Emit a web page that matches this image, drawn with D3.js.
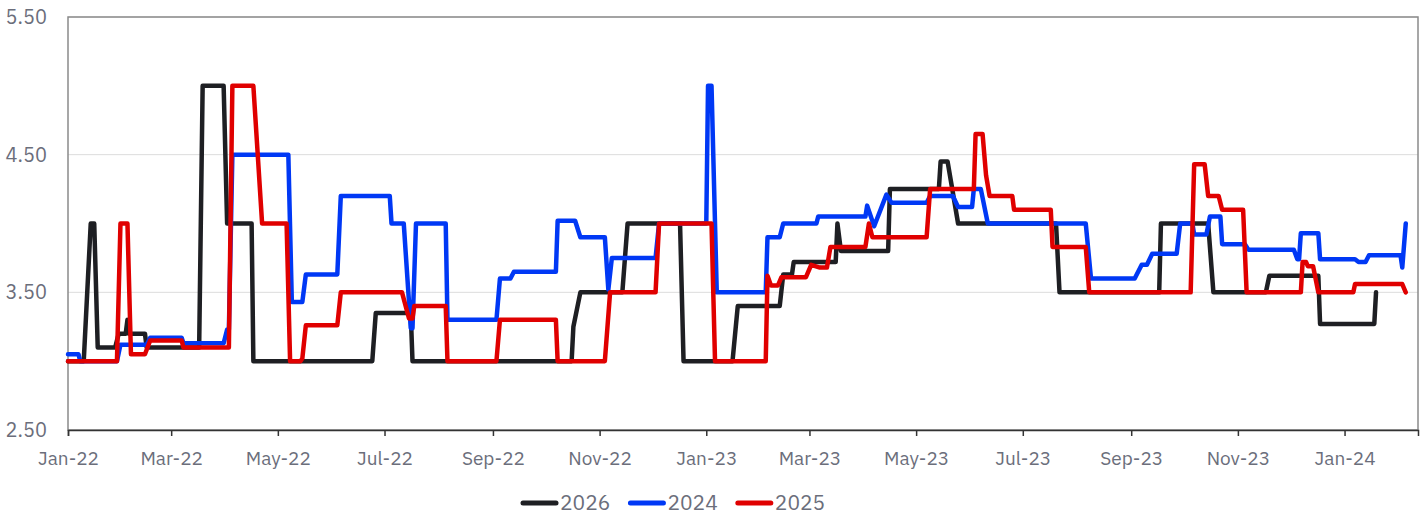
<!DOCTYPE html>
<html>
<head>
<meta charset="utf-8">
<script src="https://cdn.jsdelivr.net/npm/d3@7"></script>
<style>
  body { margin: 0; background: #fff; }
  svg { display: block; }
  svg text { font-family: "IBM Plex Sans", "Noto Sans", sans-serif; fill: #6b6e7b; }
</style>
</head>
<body>
<div id="chart"></div>
<script>
'use strict';

// series in legend order, each point is [date, value]
var seriesNames = ['2026', '2024', '2025'];

var series2026 = [
  ['2022-01-01', 3.0], ['2022-01-10', 3.0], ['2022-01-14', 4.0], ['2022-01-16', 4.0],
  ['2022-01-18', 3.1], ['2022-01-28', 3.1], ['2022-01-30', 3.2], ['2022-02-03', 3.2],
  ['2022-02-04', 3.3], ['2022-02-05', 3.2], ['2022-02-14', 3.2], ['2022-02-15', 3.1],
  ['2022-03-17', 3.1], ['2022-03-19', 5.0], ['2022-03-31', 5.0], ['2022-04-02', 4.0],
  ['2022-04-16', 4.0], ['2022-04-17', 3.0], ['2022-06-24', 3.0], ['2022-06-26', 3.35],
  ['2022-07-16', 3.35], ['2022-07-17', 3.0], ['2022-10-16', 3.0], ['2022-10-17', 3.25],
  ['2022-10-21', 3.5], ['2022-11-14', 3.5], ['2022-11-17', 4.0], ['2022-12-17', 4.0],
  ['2022-12-19', 3.0], ['2023-01-16', 3.0], ['2023-01-19', 3.4], ['2023-02-12', 3.4],
  ['2023-02-14', 3.63], ['2023-02-19', 3.63], ['2023-02-20', 3.72], ['2023-03-16', 3.72],
  ['2023-03-17', 4.0], ['2023-03-19', 3.8], ['2023-04-15', 3.8], ['2023-04-16', 4.25],
  ['2023-05-14', 4.25], ['2023-05-15', 4.45], ['2023-05-19', 4.45], ['2023-05-25', 4.0],
  ['2023-07-20', 4.0], ['2023-07-22', 3.5], ['2023-09-17', 3.5], ['2023-09-18', 4.0],
  ['2023-10-15', 4.0], ['2023-10-18', 3.5], ['2023-11-17', 3.5], ['2023-11-19', 3.62],
  ['2023-12-17', 3.62], ['2023-12-18', 3.27], ['2024-01-18', 3.27], ['2024-01-19', 3.5]
];

var series2024 = [
  ['2022-01-01', 3.05], ['2022-01-07', 3.05], ['2022-01-08', 3.0], ['2022-01-29', 3.0],
  ['2022-01-31', 3.12], ['2022-02-15', 3.12], ['2022-02-17', 3.17], ['2022-03-07', 3.17],
  ['2022-03-08', 3.13], ['2022-03-31', 3.13], ['2022-04-02', 3.23], ['2022-04-03', 3.23],
  ['2022-04-05', 4.5], ['2022-05-07', 4.5], ['2022-05-09', 3.43], ['2022-05-15', 3.43],
  ['2022-05-17', 3.63], ['2022-06-04', 3.63], ['2022-06-06', 4.2], ['2022-07-04', 4.2],
  ['2022-07-05', 4.0], ['2022-07-12', 4.0], ['2022-07-16', 3.24], ['2022-07-17', 3.24],
  ['2022-07-19', 4.0], ['2022-08-05', 4.0], ['2022-08-06', 3.3], ['2022-09-03', 3.3],
  ['2022-09-05', 3.6], ['2022-09-11', 3.6], ['2022-09-13', 3.65], ['2022-10-07', 3.65],
  ['2022-10-08', 4.02], ['2022-10-18', 4.02], ['2022-10-21', 3.9], ['2022-11-04', 3.9],
  ['2022-11-06', 3.52], ['2022-11-08', 3.75], ['2022-12-03', 3.75], ['2022-12-05', 4.0],
  ['2023-01-01', 4.0], ['2023-01-02', 5.0], ['2023-01-04', 5.0], ['2023-01-07', 3.5],
  ['2023-02-04', 3.5], ['2023-02-05', 3.9], ['2023-02-12', 3.9], ['2023-02-14', 4.0],
  ['2023-03-05', 4.0], ['2023-03-06', 4.05], ['2023-04-02', 4.05], ['2023-04-03', 4.13],
  ['2023-04-07', 3.98], ['2023-04-14', 4.21], ['2023-04-17', 4.15], ['2023-05-07', 4.15],
  ['2023-05-09', 4.2], ['2023-05-22', 4.2], ['2023-05-25', 4.12], ['2023-06-02', 4.12],
  ['2023-06-03', 4.25], ['2023-06-07', 4.25], ['2023-06-11', 4.0], ['2023-08-06', 4.0],
  ['2023-08-09', 3.6], ['2023-09-03', 3.6], ['2023-09-07', 3.7], ['2023-09-10', 3.7],
  ['2023-09-13', 3.78], ['2023-09-27', 3.78], ['2023-09-29', 4.0], ['2023-10-06', 4.0],
  ['2023-10-07', 3.92], ['2023-10-14', 3.92], ['2023-10-16', 4.05], ['2023-10-22', 4.05],
  ['2023-10-23', 3.85], ['2023-11-05', 3.85], ['2023-11-07', 3.81], ['2023-12-03', 3.81],
  ['2023-12-05', 3.74], ['2023-12-06', 3.74], ['2023-12-07', 3.93], ['2023-12-17', 3.93],
  ['2023-12-18', 3.74], ['2024-01-07', 3.74], ['2024-01-09', 3.72], ['2024-01-13', 3.72],
  ['2024-01-15', 3.77], ['2024-02-02', 3.77], ['2024-02-03', 3.68], ['2024-02-05', 4.0]
];

var series2025 = [
  ['2022-01-01', 3.0], ['2022-01-29', 3.0], ['2022-01-31', 4.0], ['2022-02-04', 4.0],
  ['2022-02-06', 3.05], ['2022-02-14', 3.05], ['2022-02-17', 3.15], ['2022-03-07', 3.15],
  ['2022-03-08', 3.1], ['2022-04-03', 3.1], ['2022-04-05', 5.0], ['2022-04-17', 5.0],
  ['2022-04-22', 4.0], ['2022-05-06', 4.0], ['2022-05-08', 3.0], ['2022-05-14', 3.0],
  ['2022-05-15', 3.02], ['2022-05-17', 3.26], ['2022-06-04', 3.26], ['2022-06-06', 3.5],
  ['2022-07-11', 3.5], ['2022-07-15', 3.31], ['2022-07-17', 3.31], ['2022-07-18', 3.4],
  ['2022-08-05', 3.4], ['2022-08-06', 3.0], ['2022-09-03', 3.0], ['2022-09-05', 3.3],
  ['2022-10-07', 3.3], ['2022-10-08', 3.0], ['2022-11-04', 3.0], ['2022-11-07', 3.5],
  ['2022-12-03', 3.5], ['2022-12-05', 4.0], ['2023-01-04', 4.0], ['2023-01-06', 3.0],
  ['2023-02-04', 3.0], ['2023-02-05', 3.62], ['2023-02-07', 3.55], ['2023-02-11', 3.55],
  ['2023-02-13', 3.61], ['2023-02-27', 3.61], ['2023-03-02', 3.7], ['2023-03-07', 3.68],
  ['2023-03-11', 3.68], ['2023-03-13', 3.83], ['2023-04-02', 3.83], ['2023-04-04', 4.0],
  ['2023-04-06', 3.9], ['2023-05-07', 3.9], ['2023-05-09', 4.25], ['2023-06-03', 4.25],
  ['2023-06-04', 4.65], ['2023-06-08', 4.65], ['2023-06-10', 4.35], ['2023-06-12', 4.2],
  ['2023-06-25', 4.2], ['2023-06-26', 4.1], ['2023-07-17', 4.1], ['2023-07-18', 3.83],
  ['2023-08-06', 3.83], ['2023-08-08', 3.5], ['2023-10-05', 3.5], ['2023-10-07', 4.43],
  ['2023-10-13', 4.43], ['2023-10-15', 4.2], ['2023-10-21', 4.2], ['2023-10-23', 4.1],
  ['2023-11-04', 4.1], ['2023-11-06', 3.5], ['2023-12-07', 3.5], ['2023-12-08', 3.72],
  ['2023-12-10', 3.72], ['2023-12-11', 3.69], ['2023-12-14', 3.69], ['2023-12-17', 3.5],
  ['2024-01-06', 3.5], ['2024-01-07', 3.56], ['2024-02-03', 3.56], ['2024-02-05', 3.5]
];

var xDomain = ['2022-01-01', '2024-02-12'];
var yTicks = [2.5, 3.5, 4.5, 5.5];

function chart() {

  var scope = this;
  var exports = {};

  scope.margins = { top: 17, right: 8, bottom: 88, left: 68 };
  scope.width = 1426 - scope.margins.left - scope.margins.right;
  scope.height = 518 - scope.margins.top - scope.margins.bottom;

  scope.parseTime = d3.timeParse('%Y-%m-%d');
  scope.colors = { '2026': '#1e1f23', '2024': '#0038f5', '2025': '#e00000' };

  scope.xScale = d3.scaleTime()
    .domain(xDomain.map(scope.parseTime))
    .range([0, scope.width]);
  scope.yScale = d3.scaleLinear().domain([2.5, 5.5]).range([scope.height, 0]);

  scope.line = d3.line()
    .x(function(d) { return scope.xScale(d.date); })
    .y(function(d) { return scope.yScale(d.value); });

  scope.formatSeries = function() {
    var raw = { '2026': series2026, '2024': series2024, '2025': series2025 };
    return seriesNames.map(function(name) {
      return {
        name: name,
        values: raw[name].map(function(p) {
          return { date: scope.parseTime(p[0]), value: p[1] };
        })
      };
    });
  };

  scope.appendAxes = function(g) {
    // gridlines
    g.append('g')
      .attr('class', 'grid')
      .selectAll('line')
      .data(yTicks)
      .enter()
      .append('line')
      .attr('x1', 0)
      .attr('x2', scope.width)
      .attr('y1', function(d) { return scope.yScale(d); })
      .attr('y2', function(d) { return scope.yScale(d); })
      .style('stroke', '#dcdcdc')
      .style('stroke-width', 1);

    // frame
    g.append('rect')
      .attr('width', scope.width)
      .attr('height', scope.height)
      .style('fill', 'none')
      .style('stroke', '#8a8a8a')
      .style('stroke-width', 1.5);

    var yAxis = d3.axisLeft(scope.yScale)
      .tickValues(yTicks)
      .tickSize(0)
      .tickPadding(21)
      .tickFormat(d3.format('.2f'));

    var yg = g.append('g').attr('class', 'axis axis--y').call(yAxis);
    yg.select('.domain').remove();
    yg.attr('font-family', null);
    yg.selectAll('text').style('font-size', '20px');

    var xAxis = d3.axisBottom(scope.xScale)
      .ticks(d3.timeMonth.every(2))
      .tickSize(6)
      .tickPadding(16)
      .tickFormat(d3.timeFormat('%b-%y'));

    var xg = g.append('g')
      .attr('class', 'axis axis--x')
      .attr('transform', 'translate(0,' + scope.height + ')')
      .call(xAxis);
    xg.attr('font-family', null);
    xg.select('.domain').style('stroke', '#333').style('stroke-width', 1.5);
    xg.selectAll('.tick line').style('stroke', '#333').style('stroke-width', 1.5);
    xg.selectAll('text').style('font-size', '19px');
  };

  scope.appendLegend = function(svg, data) {
    var legend = svg.append('g')
      .attr('class', 'legend')
      .attr('transform', 'translate(521,503)');
    var x = 0;
    data.forEach(function(d) {
      var item = legend.append('g').attr('transform', 'translate(' + x + ',0)');
      item.append('line')
        .attr('x1', 2).attr('x2', 35)
        .attr('y1', 0).attr('y2', 0)
        .style('stroke', scope.colors[d.name])
        .style('stroke-width', 5)
        .style('stroke-linecap', 'round');
      var t = item.append('text')
        .attr('x', 39)
        .attr('dy', '0.35em')
        .style('font-size', '21px')
        .text(d.name);
      x += 39 + t.node().getComputedTextLength() + 18;
    });
  };

  exports.run = function(DOMObj) {
    var svg = d3.select(DOMObj)
      .append('svg')
      .attr('width', 1426)
      .attr('height', 518);

    var g = svg.append('g')
      .attr('transform', 'translate(' + scope.margins.left + ',' + scope.margins.top + ')');

    var data = scope.formatSeries();
    scope.appendAxes(g);

    g.selectAll('.series')
      .data(data)
      .enter()
      .append('path')
      .attr('class', 'series')
      .attr('d', function(d) { return scope.line(d.values); })
      .style('fill', 'none')
      .style('stroke', function(d) { return scope.colors[d.name]; })
      .style('stroke-width', 4.5)
      .style('stroke-linejoin', 'round')
      .style('stroke-linecap', 'round');

    scope.appendLegend(svg, data);
  };
  return exports;
}

chart.call({}).run(document.getElementById('chart'));
</script>
</body>
</html>
